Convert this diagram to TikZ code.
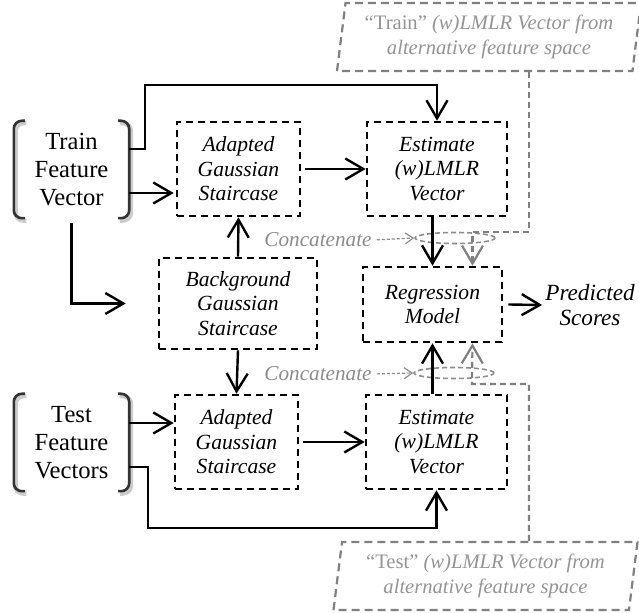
\documentclass[tikz,border=0pt]{standalone}
\usepackage{fontspec}
\setmainfont{Liberation Serif}
\usetikzlibrary{arrows.meta,shapes.geometric}

\begin{document}
\begin{tikzpicture}[x=0.5pt,y=-0.5pt,line width=1.2pt,
  >={Straight Barb[length=9pt,width=10.5pt]},
  proc/.style={draw,line width=1.3pt,dash pattern=on 3.7pt off 2.3pt,inner sep=0pt,align=center,
    font=\fontsize{10.8}{12.2}\selectfont\itshape},
  feat/.style={minimum width=56.5pt,minimum height=47.5pt,inner sep=0pt,align=center,
    font=\fontsize{12.3}{13.9}\selectfont},
  bracket/.style={line width=1.3pt,black!80,rounded corners=4pt,
    preaction={draw,black!20,line width=2.4pt,transform canvas={shift={(0.8pt,-1.1pt)}}}},
  alt/.style={trapezium,trapezium left angle=79,trapezium right angle=101,trapezium stretches body,
    minimum width=152pt,minimum height=34pt,inner sep=0pt,draw=black!50,line width=1.1pt,
    dash pattern=on 4pt off 2.5pt,text=black!42,align=center,font=\fontsize{10.3}{12.5}\selectfont\itshape},
  cat/.style={ellipse,draw=black!45,line width=0.8pt,dash pattern=on 2.5pt off 1.5pt,
    minimum width=40pt,minimum height=5.5pt,inner sep=0pt},
  catlab/.style={text=black!45,inner sep=0pt,font=\fontsize{10.6}{12}\selectfont\itshape},
  garr/.style={->,draw=black!50,line width=1.1pt,dash pattern=on 3pt off 2pt},
  catarr/.style={->,>={Straight Barb[length=4pt,width=5.5pt]},draw=black!45,line width=0.6pt,
    dash pattern=on 1.5pt off 1pt}]
\useasboundingbox (0,0) rectangle (639,613);

\node[feat] (trainvec) at (71.5,169.5) {Train\\Feature\\Vector};
\node[proc,minimum width=61.5pt,minimum height=47pt] (trainada) at (238.5,169) {Adapted\\Gaussian\\Staircase};
\node[proc,minimum width=70pt,minimum height=47pt] (trainest) at (437,169) {Estimate\\(w)LMLR\\Vector};
\node[proc,minimum width=79pt,minimum height=45.5pt] (backgr) at (238,303.5) {Background\\Gaussian\\Staircase};
\node[proc,minimum width=69.5pt,minimum height=37.5pt] (regr) at (432.5,304.5) {Regression\\Model};
\node[inner sep=1pt,align=center,font=\fontsize{11.6}{12.6}\selectfont\itshape] (pred) at (590,305) {Predicted\\Scores};
\node[feat] (testvec) at (71.5,442.5) {Test\\Feature\\Vectors};
\node[proc,minimum width=61.5pt,minimum height=47pt] (testada) at (236.5,442) {Adapted\\Gaussian\\Staircase};
\node[proc,minimum width=70.5pt,minimum height=47pt] (testest) at (436.5,442) {Estimate\\(w)LMLR\\Vector};
\node[alt] (altrain) at (489,37) {{\upshape “Train”} (w)LMLR Vector from\\alternative feature space};
\node[alt] (altest) at (485.5,576) {{\upshape “Test”} (w)LMLR Vector from\\alternative feature space};
\node[cat] (catup) at (455,238) {};
\node[cat] (catdown) at (454,373) {};
\node[catlab] (catlabup) at (318,240) {Concatenate};
\node[catlab] (catlabdown) at (318,374) {Concatenate};

\draw[bracket] ([xshift=5.5pt]trainvec.north west) -- (trainvec.north west) -- (trainvec.south west) -- ([xshift=5.5pt]trainvec.south west);
\draw[bracket] ([xshift=-5.5pt]trainvec.north east) -- (trainvec.north east) -- (trainvec.south east) -- ([xshift=-5.5pt]trainvec.south east);
\draw[bracket] ([xshift=5.5pt]testvec.north west) -- (testvec.north west) -- (testvec.south west) -- ([xshift=5.5pt]testvec.south west);
\draw[bracket] ([xshift=-5.5pt]testvec.north east) -- (testvec.north east) -- (testvec.south east) -- ([xshift=-5.5pt]testvec.south east);

\draw[->] ([yshift=10.25pt]trainvec.east) -| (145,85) -| (trainest.north);
\draw[->,shorten >=1pt] ([yshift=-11.75pt]trainvec.east) -- ([yshift=-12pt]trainada.west);
\draw[->] ([yshift=-2.5pt]trainvec.south) |- ([xshift=-16pt]backgr.west);
\draw[->] ([xshift=2pt]trainada.east) -- (trainest.west);
\draw[->] (backgr.north) -- (trainada.south);
\draw[->] (backgr.south) -- (testada.north);
\draw[->] (regr.north |- trainest.south) -- (regr.north);
\draw[->] (regr.south |- testest.north) -- (regr.south);
\draw[->] ([xshift=2.5pt]regr.east) -- (pred.west);
\draw[->] ([yshift=9.75pt]testvec.east) -- ([yshift=9.5pt]testada.west);
\draw[->] ([xshift=2pt]testada.east) -- (testest.west);
\draw[->] ([yshift=-12.25pt]testvec.east) -| (148,528) -| (testest.south);

\draw[garr] ([xshift=20pt]altrain.south) |- ([xshift=20pt]regr.north |- catup.north) -- ([xshift=20pt]regr.north);
\draw[garr] ([xshift=21.75pt]altest.north) |- (472,384) -- ([xshift=20pt]regr.south);
\draw[catarr,shorten <=2pt] (catlabup.east) -- (catup.west);
\draw[catarr,shorten <=2pt] (catlabdown.east) -- (catdown.west);
\end{tikzpicture}
\end{document}
